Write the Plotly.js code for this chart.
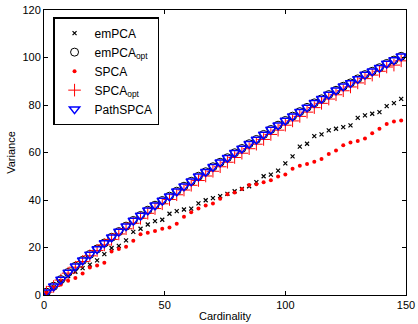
<!DOCTYPE html>
<html>
<head>
<meta charset="utf-8">
<script src="https://cdn.plot.ly/plotly-3.0.1.min.js"></script>
<style>html,body{margin:0;padding:0;background:#fff;}#chart{width:418px;height:324px;}</style>
</head>
<body>
<div id="chart"></div>
<script>
const cardinality = [1,4,7,10,13,16,19,22,25,28,31,34,37,40,43,46,49,52,55,58,61,64,67,70,73,76,79,82,85,88,91,94,97,100,103,106,109,112,115,118,121,124,127,130,133,136,139,142,145,148];

const emPCA = [1.0,3.3,5.8,8.0,9.8,11.3,12.8,14.6,17.2,19.8,20.7,23.0,26.6,27.9,29.7,31.1,31.7,34.2,35.3,36.0,36.4,38.6,39.9,40.8,41.6,42.6,43.7,44.7,45.8,47.5,50.0,50.7,52.4,55.4,58.4,62.5,63.7,66.9,67.6,69.3,70.0,70.7,71.4,74.6,75.6,76.3,77.0,79.5,80.8,82.6];

const emPCAopt = [1.2,3.7,6.5,9.5,12.1,14.6,17.1,19.4,21.9,24.3,26.7,29.0,31.4,33.5,35.7,37.8,39.8,41.6,43.7,45.8,47.9,50.0,51.9,54.0,55.9,57.8,59.9,61.7,63.7,65.5,67.6,69.7,71.5,73.5,75.3,77.2,79.0,80.9,82.6,84.4,86.2,87.9,89.3,91.0,92.8,94.2,95.7,97.5,98.9,100.5];

const SPCA = [0.8,2.5,4.4,6.0,7.2,9.1,11.6,12.4,13.6,18.3,19.4,20.3,22.8,25.6,26.2,26.9,27.9,28.4,30.0,32.9,34.8,36.4,37.7,38.5,40.5,42.4,43.2,44.6,46.3,46.6,47.5,48.3,49.9,50.7,53.2,54.4,55.2,56.1,57.3,59.4,60.8,63.1,64.2,64.8,65.9,68.1,70.0,72.0,73.1,73.5];

const SPCAopt = [1.2,3.6,6.3,9.2,11.7,14.1,16.5,18.7,21.1,23.4,25.7,27.9,30.2,32.3,34.4,36.4,38.4,40.2,42.2,44.2,46.2,48.2,50.1,52.1,54.0,55.9,57.9,59.7,61.6,63.5,65.5,67.6,69.4,71.5,73.3,75.2,77.0,78.9,80.7,82.5,84.3,86.0,87.6,89.3,91.1,92.6,94.2,96.0,96.8,98.6];

const PathSPCA = [1.2,3.7,6.5,9.5,12.1,14.6,17.1,19.4,21.9,24.3,26.7,29.0,31.4,33.5,35.7,37.8,39.8,41.6,43.7,45.8,47.9,50.0,51.9,54.0,55.9,57.8,59.9,61.7,63.7,65.5,67.6,69.7,71.5,73.5,75.3,77.2,79.0,80.9,82.6,84.4,86.2,87.9,89.3,91.0,92.8,94.2,95.7,97.5,98.9,100.5];

const xTicks = [0,50,100,150];
const yTicks = [0,20,40,60,80,100,120];

const font = {family: '"Liberation Sans", Arial, sans-serif', size: 11, color: '#000'};
const legendFont = {family: '"Liberation Sans", Arial, sans-serif', size: 12, color: '#000'};

const traces = [
  {x: cardinality, y: emPCA, name: 'emPCA', mode: 'markers', type: 'scatter',
   marker: {symbol: 'x-thin-open', size: 4, line: {color: '#000', width: 1.2}, color: '#000'}},
  {x: cardinality, y: emPCAopt, name: 'emPCA<sub>opt</sub>', mode: 'markers', type: 'scatter',
   marker: {symbol: 'circle-open', size: 8, line: {color: '#000', width: 1}, color: '#000'}},
  {x: cardinality, y: SPCA, name: 'SPCA', mode: 'markers', type: 'scatter',
   marker: {symbol: 'circle', size: 4, color: '#ff0000'}},
  {x: cardinality, y: SPCAopt, name: 'SPCA<sub>opt</sub>', mode: 'markers', type: 'scatter',
   marker: {symbol: 'cross-thin-open', size: 9, line: {color: '#ff0000', width: 1}, color: '#ff0000'}},
  {x: cardinality, y: PathSPCA, name: 'PathSPCA', mode: 'markers', type: 'scatter',
   marker: {symbol: 'triangle-down-open', size: 9, line: {color: '#0000ff', width: 1.5}, color: '#0000ff'}}
];

const layout = {
  width: 418, height: 324,
  margin: {l: 44, r: 12, t: 10, b: 29},
  paper_bgcolor: '#fff', plot_bgcolor: '#fff',
  font: font,
  showlegend: true,
  legend: {x: 0.025, y: 0.975, xanchor: 'left', yanchor: 'top',
    bgcolor: '#fff', bordercolor: '#000', borderwidth: 1.5,
    font: legendFont, tracegroupgap: 0},
  xaxis: {range: [0, 150], tickvals: xTicks, ticktext: xTicks.map(String),
    ticks: 'inside', ticklen: 4, tickcolor: '#000', showline: true, linecolor: '#000', linewidth: 1,
    mirror: 'ticks', showgrid: false, zeroline: false,
    title: {text: 'Cardinality', font: font, standoff: 2}, tickfont: font},
  yaxis: {range: [0, 120], tickvals: yTicks, ticktext: yTicks.map(String),
    ticks: 'inside', ticklen: 4, tickcolor: '#000', showline: true, linecolor: '#000', linewidth: 1,
    mirror: 'ticks', showgrid: false, zeroline: false,
    title: {text: 'Variance', font: font, standoff: 4}, tickfont: font}
};

Plotly.newPlot('chart', traces, layout, {displayModeBar: false, staticPlot: true});
</script>
</body>
</html>
